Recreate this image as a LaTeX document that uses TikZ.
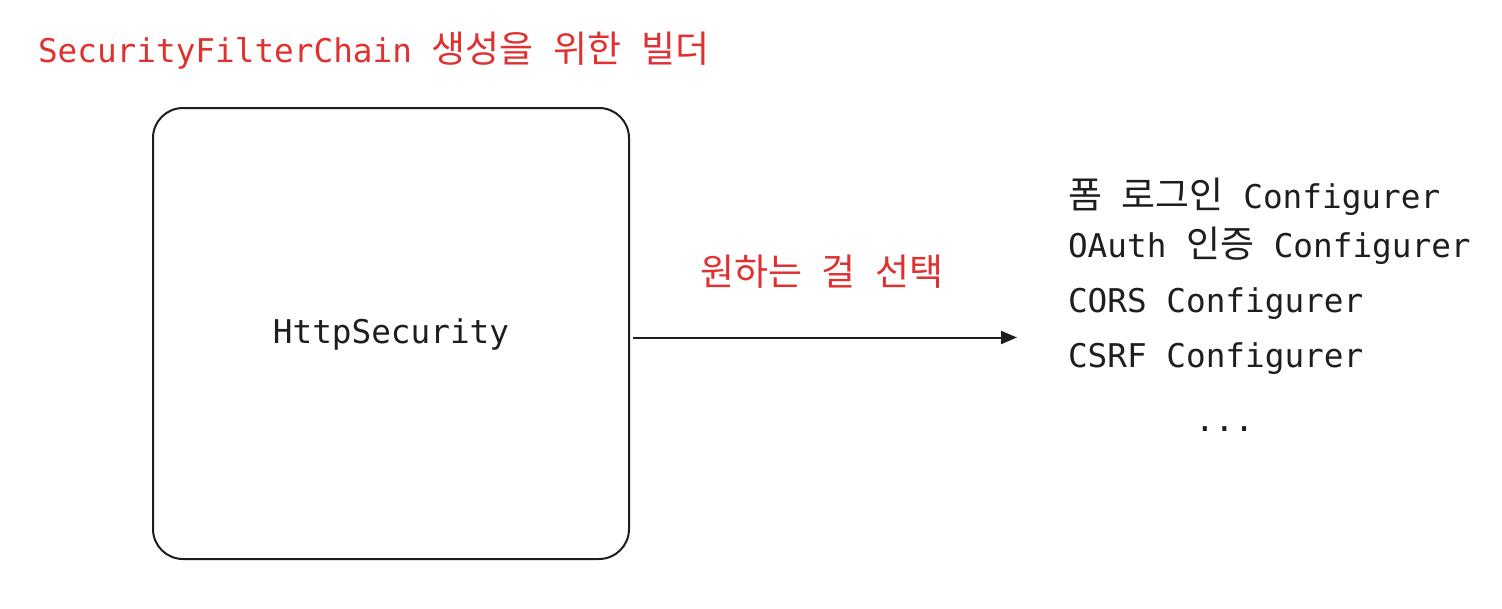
\documentclass[tikz,border=0pt]{standalone}
\usepackage{fontspec}
\setmainfont{DejaVu Sans Mono}
\newfontfamily\kr[Scale=1.13]{Noto Sans CJK KR}
\usetikzlibrary{arrows.meta}
\definecolor{exred}{HTML}{E03131}
\definecolor{exblack}{HTML}{1E1E1E}
\begin{document}
\begin{tikzpicture}[x=1pt,y=-1pt,
  txt/.style={inner sep=0pt, outer sep=0pt, font=\fontsize{32.7}{38}\selectfont, text=exblack},
  redtxt/.style={txt, text=exred},
  bigbox/.style={draw=exblack, line width=2pt, rounded corners=30pt, minimum width=476pt, minimum height=451pt, inner sep=0pt, outer sep=0pt},
  conn/.style={draw=exblack, line width=2pt, -{Triangle[length=16pt,width=13pt]}}
]
\useasboundingbox[fill=white] (0,0) rectangle (1502,608);

\node[redtxt, anchor=base west] (title) at (38,62) {SecurityFilterChain {\kr 생성을} {\kr 위한} {\kr 빌더}};

\node[bigbox] (box) at (391,333.5) {};
\node[txt, anchor=base] (hs) at (391,343) {HttpSecurity};

\coordinate (tip) at (1017,337.5);
\draw[conn, shorten <=4pt] (box.east |- tip) -- (tip);
\node[redtxt, anchor=base] (lbl) at (822,285) {{\kr 원하는} {\kr 걸} {\kr 선택}};

\node[txt, anchor=base west] (l1) at (1068,208) {{\kr 폼} {\kr 로그인} Configurer};
\node[txt, anchor=base west] (l2) at (1068,257) {OAuth {\kr 인증} Configurer};
\node[txt, anchor=base west] (l3) at (1068,312) {CORS Configurer};
\node[txt, anchor=base west] (l4) at (1068,367) {CSRF Configurer};
\node[txt, anchor=base west] (l5) at (1195,431) {...};
\end{tikzpicture}
\end{document}
